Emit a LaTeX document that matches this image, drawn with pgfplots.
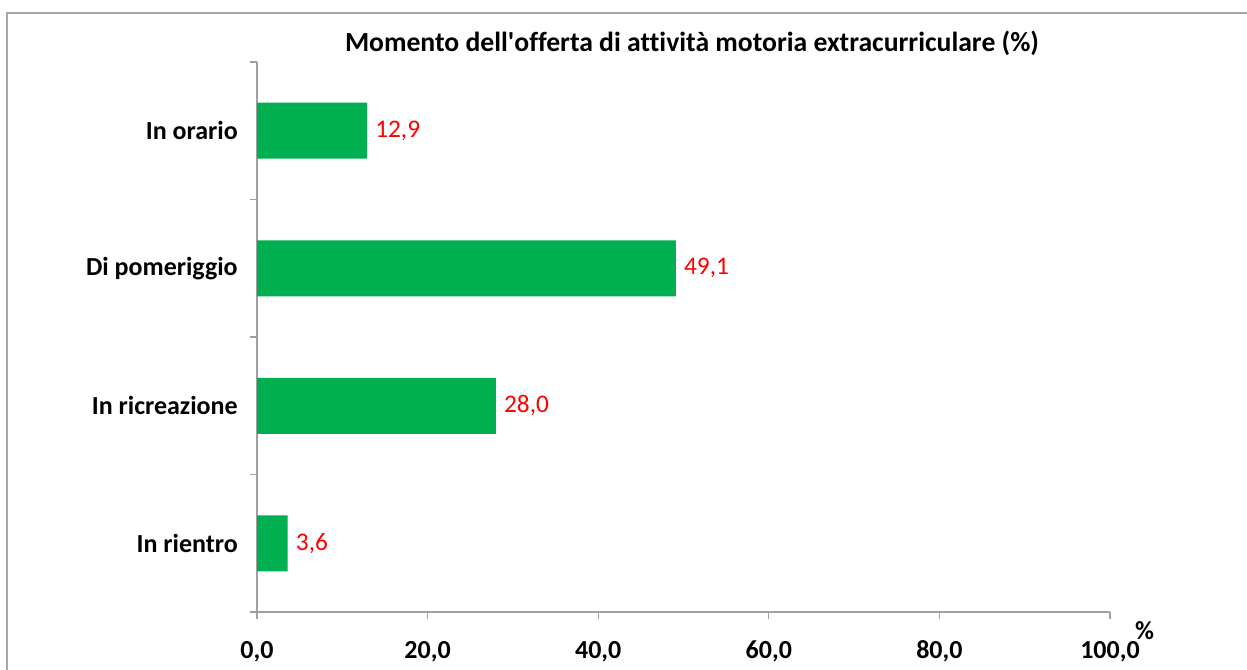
\documentclass[border=0pt]{standalone}
\usepackage{fontspec}
\setmainfont{Carlito}[Ligatures={NoCommon}]
\usepackage{pgfplots}
\pgfplotsset{compat=1.18}
\definecolor{bargreen}{HTML}{00B050}
\definecolor{axgray}{HTML}{A0A0A0}
\definecolor{framegray}{HTML}{A6A6A6}
\begin{document}
\begin{tikzpicture}
\path[use as bounding box] (0,0) rectangle (935.25pt,501.75pt);
\clip (0,0) rectangle (935.25pt,501.75pt);
\draw[framegray, line width=1.5pt] (5.25pt,-10pt) rectangle (945pt,492pt);
\begin{axis}[
  at={(192.75pt,42.75pt)}, anchor=south west,
  scale only axis, width=639.75pt, height=412.5pt,
  xbar, bar width=42pt,
  xmin=0, xmax=100, ymin=-0.5, ymax=3.5,
  axis x line*=bottom, axis y line*=left,
  axis line style={axgray, line width=1pt},
  tick align=outside,
  major tick length=5.25pt, minor tick length=5.25pt,
  tick style={axgray, line width=1pt},
  major y tick style={draw=none},
  xtick={0,20,40,60,80,100},
  xticklabels={{0,0},{20,0},{40,0},{60,0},{80,0},{100,0}},
  ytick={0,1,2,3},
  yticklabels={In rientro,In ricreazione,Di pomeriggio,In orario},
  minor ytick={-0.5,0.5,1.5,2.5,3.5},
  ticklabel style={font=\fontsize{19.5}{23}\selectfont\bfseries, inner sep=0pt},
  xticklabel style={anchor=base, yshift=-29.25pt},
  yticklabel style={anchor=east, xshift=-9pt},
  point meta=explicit symbolic,
  nodes near coords,
  every node near coord/.append style={font=\fontsize{19pt}{23pt}\selectfont, text=red, inner sep=0pt, xshift=6pt, anchor=west},
  clip=false,
]
\addplot[fill=bargreen, draw=none] table[meta=lab] {
x y lab
3.6 0 3,6
28.0 1 28,0
49.1 2 49,1
12.9 3 12,9
};
\end{axis}
\node[anchor=base, font=\fontsize{20.75}{24}\selectfont\bfseries] at (519pt,462.75pt) {Momento dell\textquotesingle offerta di attività motoria extracurriculare (\%)};
\node[font=\fontsize{19.5}{23}\selectfont\bfseries] at (858.4pt,28.5pt) {\%};
\end{tikzpicture}
\end{document}
